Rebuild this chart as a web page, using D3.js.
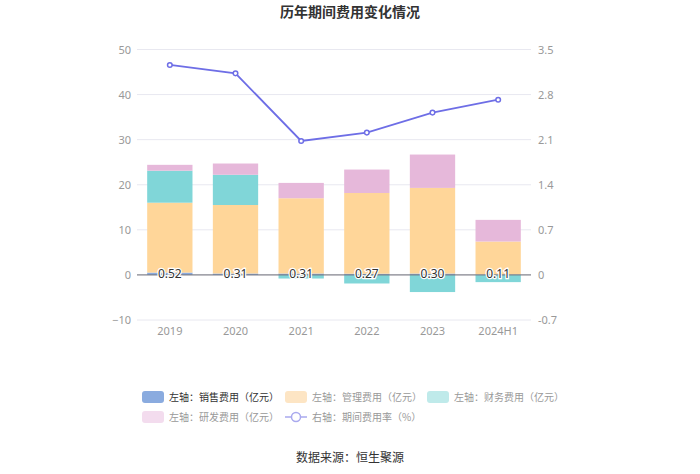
<!DOCTYPE html>
<html><head><meta charset="utf-8">
<script src="https://cdn.jsdelivr.net/npm/d3@7/dist/d3.min.js"></script>
<style>body{margin:0;background:#fff;font-family:"Noto Sans CJK SC","Noto Sans",sans-serif;}</style>
</head><body><svg id="c" width="700" height="474"></svg>
<script>
const categories = ["2019","2020","2021","2022","2023","2024H1"];
const sales = [0.52,0.31,0.31,0.27,0.30,0.11];
const admin = [15.5,15.2,16.7,17.9,19.0,7.3];
const finance = [7.1,6.7,-0.8,-1.9,-3.8,-1.6];
const rnd = [1.3,2.5,3.4,5.2,7.4,4.8];
const rate = [3.26,3.13,2.08,2.21,2.52,2.72];
const leftTicks = [-10,0,10,20,30,40,50];
const rightTicks = [-0.7,0,0.7,1.4,2.1,2.8,3.5];
const seriesNames = ["左轴：销售费用（亿元）","左轴：管理费用（亿元）","左轴：财务费用（亿元）","左轴：研发费用（亿元）","右轴：期间费用率（%）"];

const colors = ["#8aabdf","#ffd699","#80d6d8","#e6b8da"];
const lineColor = "#6e6ee6";
const svg = d3.select("#c");
const L=137,R=531,T=49.5,B=320;
const x = d3.scaleBand().domain(categories).range([L,R]);
const y = d3.scaleLinear().domain([-10,50]).range([B,T]);
const y2 = d3.scaleLinear().domain([-0.7,3.5]).range([B,T]);

svg.append("text").attr("x",350).attr("y",17).attr("text-anchor","middle")
  .attr("font-size",14).attr("font-weight","bold").attr("fill","#333").text("历年期间费用变化情况");

const g = svg.append("g");
g.selectAll("line.grid").data(leftTicks).join("line")
  .attr("x1",L).attr("x2",R).attr("y1",d=>y(d)).attr("y2",d=>y(d))
  .attr("stroke","#e8e8f0").attr("stroke-width",1);
const la = svg.append("g").attr("transform",`translate(${L},0)`)
  .call(d3.axisLeft(y).tickValues(leftTicks).tickSize(0).tickPadding(6));
la.select(".domain").remove();
la.selectAll("text").attr("fill","#999").attr("font-size",11).attr("font-family","'Noto Sans',sans-serif");
const ra = svg.append("g").attr("transform",`translate(${R},0)`)
  .call(d3.axisRight(y2).tickValues(rightTicks).tickSize(0).tickPadding(7).tickFormat(d=>d));
ra.select(".domain").remove();
ra.selectAll("text").attr("fill","#999").attr("font-size",11).attr("font-family","'Noto Sans',sans-serif");
const xa = svg.append("g").attr("transform",`translate(0,${B})`)
  .call(d3.axisBottom(x).tickSize(0).tickPadding(7));
xa.select(".domain").remove();
xa.selectAll("text").attr("fill","#999").attr("font-size",11).attr("font-family","'Noto Sans',sans-serif");

const rows = categories.map((c,i)=>({cat:c,s:sales[i],a:admin[i],f:finance[i],r:rnd[i]}));
const stack = d3.stack().keys(["s","a","f","r"]).offset(d3.stackOffsetDiverging);
const layers = stack(rows);
const bw = x.bandwidth()*0.69;
layers.forEach((layer,k)=>{
  svg.append("g").selectAll("rect").data(layer).join("rect")
    .attr("x",d=>x(d.data.cat)+(x.bandwidth()-bw)/2)
    .attr("width",bw)
    .attr("y",d=>y(Math.max(d[0],d[1])))
    .attr("height",d=>Math.abs(y(d[0])-y(d[1])))
    .attr("fill",colors[k]);
});
svg.append("line").attr("x1",L).attr("x2",R).attr("y1",y(0)).attr("y2",y(0))
  .attr("stroke","#6e7079").attr("stroke-width",1);

svg.append("g").selectAll("text").data(rows).join("text")
  .attr("x",d=>x(d.cat)+x.bandwidth()/2).attr("y",y(0)+3)
  .attr("text-anchor","middle").attr("font-size",12).attr("font-family","'Noto Sans',sans-serif")
  .attr("fill","#333").attr("stroke","#fff").attr("stroke-width",2.5).attr("paint-order","stroke")
  .text(d=>d.s.toFixed(2));

const line = d3.line().x((d,i)=>x(categories[i])+x.bandwidth()/2).y(d=>y2(d));
svg.append("path").datum(rate).attr("d",line).attr("fill","none").attr("stroke",lineColor).attr("stroke-width",1.8);
svg.append("g").selectAll("circle").data(rate).join("circle")
  .attr("cx",(d,i)=>x(categories[i])+x.bandwidth()/2).attr("cy",d=>y2(d)).attr("r",2.3)
  .attr("fill","#fff").attr("stroke",lineColor).attr("stroke-width",1.5);

const legColors = ["#8aabdf","#fde5c4","#bfeaea","#f3dcee"];
const legPos = [[142,397],[285,397],[427,397],[142,417],[285,417]];
const lg = svg.append("g");
seriesNames.forEach((n,i)=>{
  const [lx,ly]=legPos[i];
  if(i<4){
    lg.append("rect").attr("x",lx).attr("y",ly-6).attr("width",22).attr("height",12).attr("rx",3).attr("fill",legColors[i]);
  } else {
    lg.append("line").attr("x1",lx).attr("x2",lx+22).attr("y1",ly).attr("y2",ly).attr("stroke","#a9a9ee").attr("stroke-width",1.5);
    lg.append("circle").attr("cx",lx+11).attr("cy",ly).attr("r",4.5).attr("fill","#fff").attr("stroke","#a9a9ee").attr("stroke-width",1.5);
  }
  lg.append("text").attr("x",lx+27).attr("y",ly+4).attr("font-size",10)
    .attr("fill",i===0?"#333":"#999").text(n);
});

svg.append("text").attr("x",350).attr("y",462).attr("text-anchor","middle")
  .attr("font-size",12).attr("fill","#333").text("数据来源：恒生聚源");
</script></body></html>
